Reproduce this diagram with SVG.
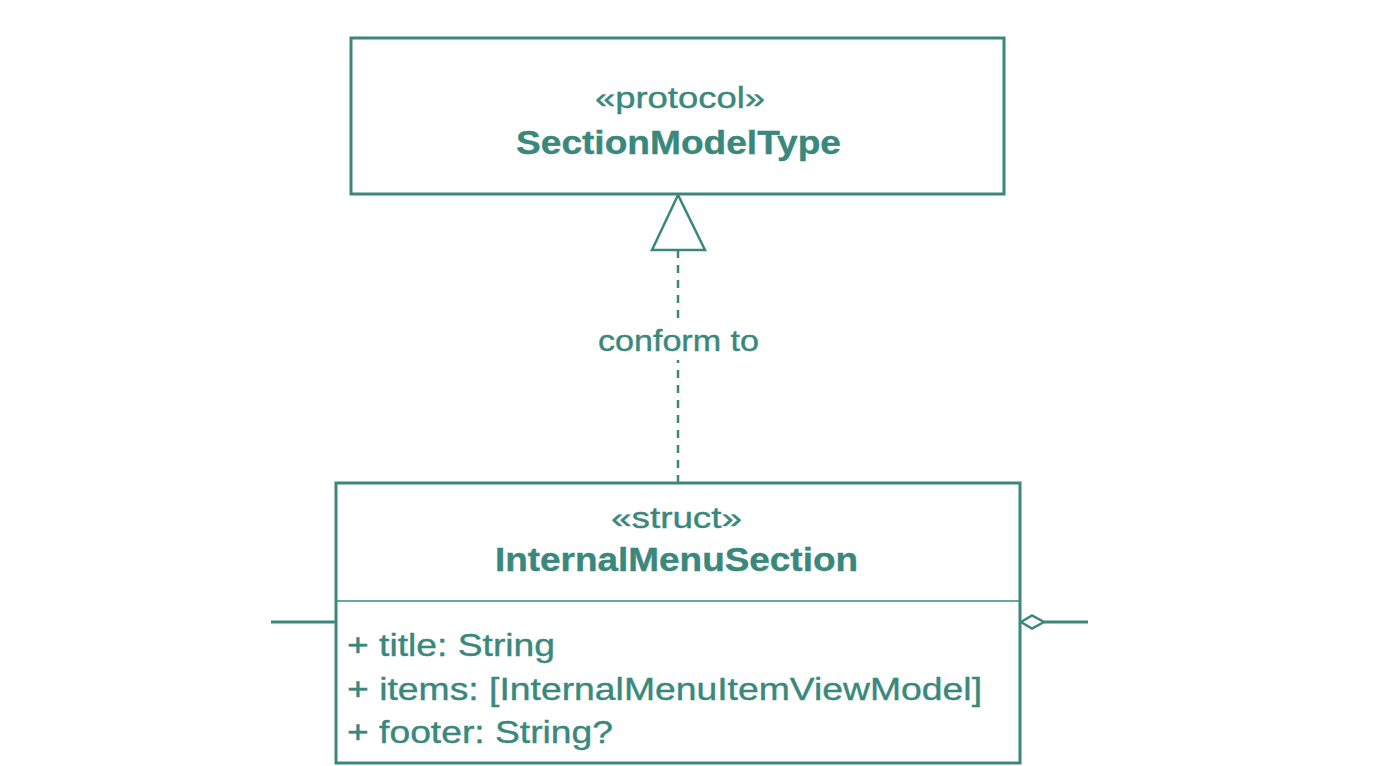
<svg xmlns="http://www.w3.org/2000/svg" width="1384" height="766" viewBox="0 0 1384 766">
<style>
.box{fill:#ffffff;stroke:#3a887c;stroke-width:3}
.t{font-family:"Liberation Sans",Arial,sans-serif;fill:#3a887c;stroke:#3a887c;stroke-width:0.4}
.c{text-anchor:middle}
.b{font-weight:bold}
.ln{stroke:#3a887c;fill:none}
</style>
<rect width="1384" height="766" fill="#ffffff"/>
<g id="connectors">
<line class="ln" x1="678" y1="250" x2="678" y2="482" stroke-width="2.5" stroke-dasharray="8,7"/>
<polygon points="678,195 652,250 705,250" fill="#ffffff" stroke="#3a887c" stroke-width="2.5"/>
<rect x="592" y="320" width="174" height="40" fill="#ffffff"/>
<text class="t c" x="678.5" y="351" font-size="30" textLength="161" lengthAdjust="spacingAndGlyphs">conform to</text>
<line class="ln" x1="271" y1="622" x2="335" y2="622" stroke-width="3"/>
<polygon points="1021,622 1032,615.5 1044,622 1032,628.5" fill="#ffffff" stroke="#3a887c" stroke-width="2.5"/>
<line class="ln" x1="1044" y1="622" x2="1088" y2="622" stroke-width="3"/>
</g>
<g id="SectionModelType">
<rect class="box" x="351" y="38" width="653" height="156"/>
<text class="t c" x="680" y="108" font-size="30" textLength="170" lengthAdjust="spacingAndGlyphs">«protocol»</text>
<text class="t c b" x="678.5" y="154" font-size="34" textLength="325" lengthAdjust="spacingAndGlyphs">SectionModelType</text>
</g>
<g id="InternalMenuSection">
<rect class="box" x="336" y="483" width="684" height="280"/>
<line class="ln" x1="336" y1="601" x2="1020" y2="601" stroke-width="1.5"/>
<text class="t c" x="676.5" y="528" font-size="30" textLength="131" lengthAdjust="spacingAndGlyphs">«struct»</text>
<text class="t c b" x="676.5" y="571" font-size="34" textLength="363" lengthAdjust="spacingAndGlyphs">InternalMenuSection</text>
<text class="t" x="347" y="656" font-size="32" textLength="208" lengthAdjust="spacingAndGlyphs">+ title: String</text>
<text class="t" x="347" y="700" font-size="32" textLength="635" lengthAdjust="spacingAndGlyphs">+ items: [InternalMenuItemViewModel]</text>
<text class="t" x="347" y="743" font-size="32" textLength="266" lengthAdjust="spacingAndGlyphs">+ footer: String?</text>
</g>
</svg>
